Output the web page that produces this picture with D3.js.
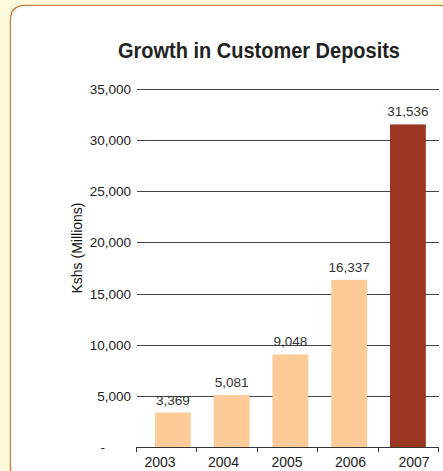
<!DOCTYPE html>
<html>
<head>
<meta charset="utf-8">
<script src="https://cdn.jsdelivr.net/npm/d3@7"></script>
<style>
  body { margin: 0; background: #fffadb; }
  svg { display: block; }
</style>
</head>
<body>
<div id="chart"></div>
<script>
// chart data
var years = ["2003", "2004", "2005", "2006", "2007"];
var deposits = [3369, 5081, 9048, 16337, 31536];
var yTicks = [0, 5000, 10000, 15000, 20000, 25000, 30000, 35000];

var width = 443, height = 471;

var svg = d3.select("#chart").append("svg")
    .attr("width", width)
    .attr("height", height);

// rounded white panel with orange border
svg.append("path")
    .attr("d", "M10.5,480 L10.5,20 Q10.5,5.5 25,5.5 L460,5.5")
    .attr("fill", "#fff")
    .attr("stroke", "#cc8448")
    .attr("stroke-width", 1.6);
svg.append("rect")
    .attr("x", 11.3).attr("y", 6.3)
    .attr("width", 440).attr("height", 470)
    .attr("rx", 13)
    .attr("fill", "#fff");

// title (condensed to match the narrow face)
svg.append("text")
    .attr("x", 259)
    .attr("y", 58)
    .attr("text-anchor", "middle")
    .attr("font-family", "'Liberation Sans Narrow', 'Arial Narrow', 'Liberation Sans', sans-serif")
    .attr("font-weight", "bold")
    .attr("font-size", "22px")
    .attr("textLength", 282)
    .attr("lengthAdjust", "spacingAndGlyphs")
    .attr("fill", "#222")
    .text("Growth in Customer Deposits");

// scales
var y = d3.scaleLinear()
    .domain([0, 35000])
    .range([447, 89]);

var xBar = d3.scaleBand()
    .domain(years)
    .range([143.25, 437.6])
    .paddingInner(0.39)
    .paddingOuter(0.2);

var xTick = d3.scaleBand()
    .domain(years)
    .range([136, 438]);

var xLabel = d3.scaleBand()
    .domain(years)
    .range([128.25, 445.75]);

var fmt = d3.format(",");
var font = "'Liberation Sans', Arial, sans-serif";

// gridlines + y labels
var grid = svg.append("g");
grid.selectAll("line")
    .data(yTicks.filter(function(d) { return d > 0; }))
    .enter()
    .append("line")
        .attr("x1", 137)
        .attr("x2", 439)
        .attr("y1", function(d) { return Math.round(y(d)) + 0.5; })
        .attr("y2", function(d) { return Math.round(y(d)) + 0.5; })
        .attr("stroke", "#444")
        .attr("stroke-width", 1.2);

grid.selectAll("text")
    .data(yTicks)
    .enter()
    .append("text")
        .attr("x", function(d) { return d == 0 ? 105 : 131; })
        .attr("y", function(d) { return y(d) + 5; })
        .attr("text-anchor", "end")
        .attr("font-family", font)
        .attr("font-size", "13.5px")
        .attr("fill", "#222")
        .text(function(d) { return d == 0 ? "-" : fmt(d); });

// bars
svg.selectAll("rect.bar")
    .data(deposits)
    .enter()
    .append("rect")
        .attr("class", "bar")
        .attr("x", function(d, i) { return xBar(years[i]); })
        .attr("y", function(d) { return y(d); })
        .attr("width", xBar.bandwidth())
        .attr("height", function(d) { return y(0) - y(d); })
        .attr("fill", function(d, i) { return i == years.length - 1 ? "#9a3621" : "#fdcb98"; });

// value labels
svg.selectAll("text.value")
    .data(deposits)
    .enter()
    .append("text")
        .attr("class", "value")
        .attr("x", function(d, i) { return xBar(years[i]) + xBar.bandwidth() / 2; })
        .attr("y", function(d) { return y(d) - 8; })
        .attr("text-anchor", "middle")
        .attr("font-family", font)
        .attr("font-size", "13.5px")
        .attr("fill", "#333")
        .text(function(d) { return fmt(d); });

// x axis line and ticks
svg.append("line")
    .attr("x1", 136).attr("x2", 438.5)
    .attr("y1", 447.5).attr("y2", 447.5)
    .attr("stroke", "#333")
    .attr("stroke-width", 1);

var tickPos = years.map(function(d) { return xTick(d); }).concat([438]);
svg.selectAll("line.tick")
    .data(tickPos)
    .enter()
    .append("line")
        .attr("class", "tick")
        .attr("x1", function(d) { return Math.round(d) + 0.5; })
        .attr("x2", function(d) { return Math.round(d) + 0.5; })
        .attr("y1", 447)
        .attr("y2", 452)
        .attr("stroke", "#333");

svg.selectAll("text.year")
    .data(years)
    .enter()
    .append("text")
        .attr("class", "year")
        .attr("x", function(d) { return xLabel(d) + xLabel.bandwidth() / 2; })
        .attr("y", 467)
        .attr("text-anchor", "middle")
        .attr("font-family", font)
        .attr("font-size", "14px")
        .attr("fill", "#222")
        .text(function(d) { return d; });

// y axis title
svg.append("text")
    .attr("transform", "translate(82,248) rotate(-90)")
    .attr("text-anchor", "middle")
    .attr("font-family", font)
    .attr("font-size", "14px")
    .attr("fill", "#111")
    .text("Kshs (Millions)");
</script>
</body>
</html>
